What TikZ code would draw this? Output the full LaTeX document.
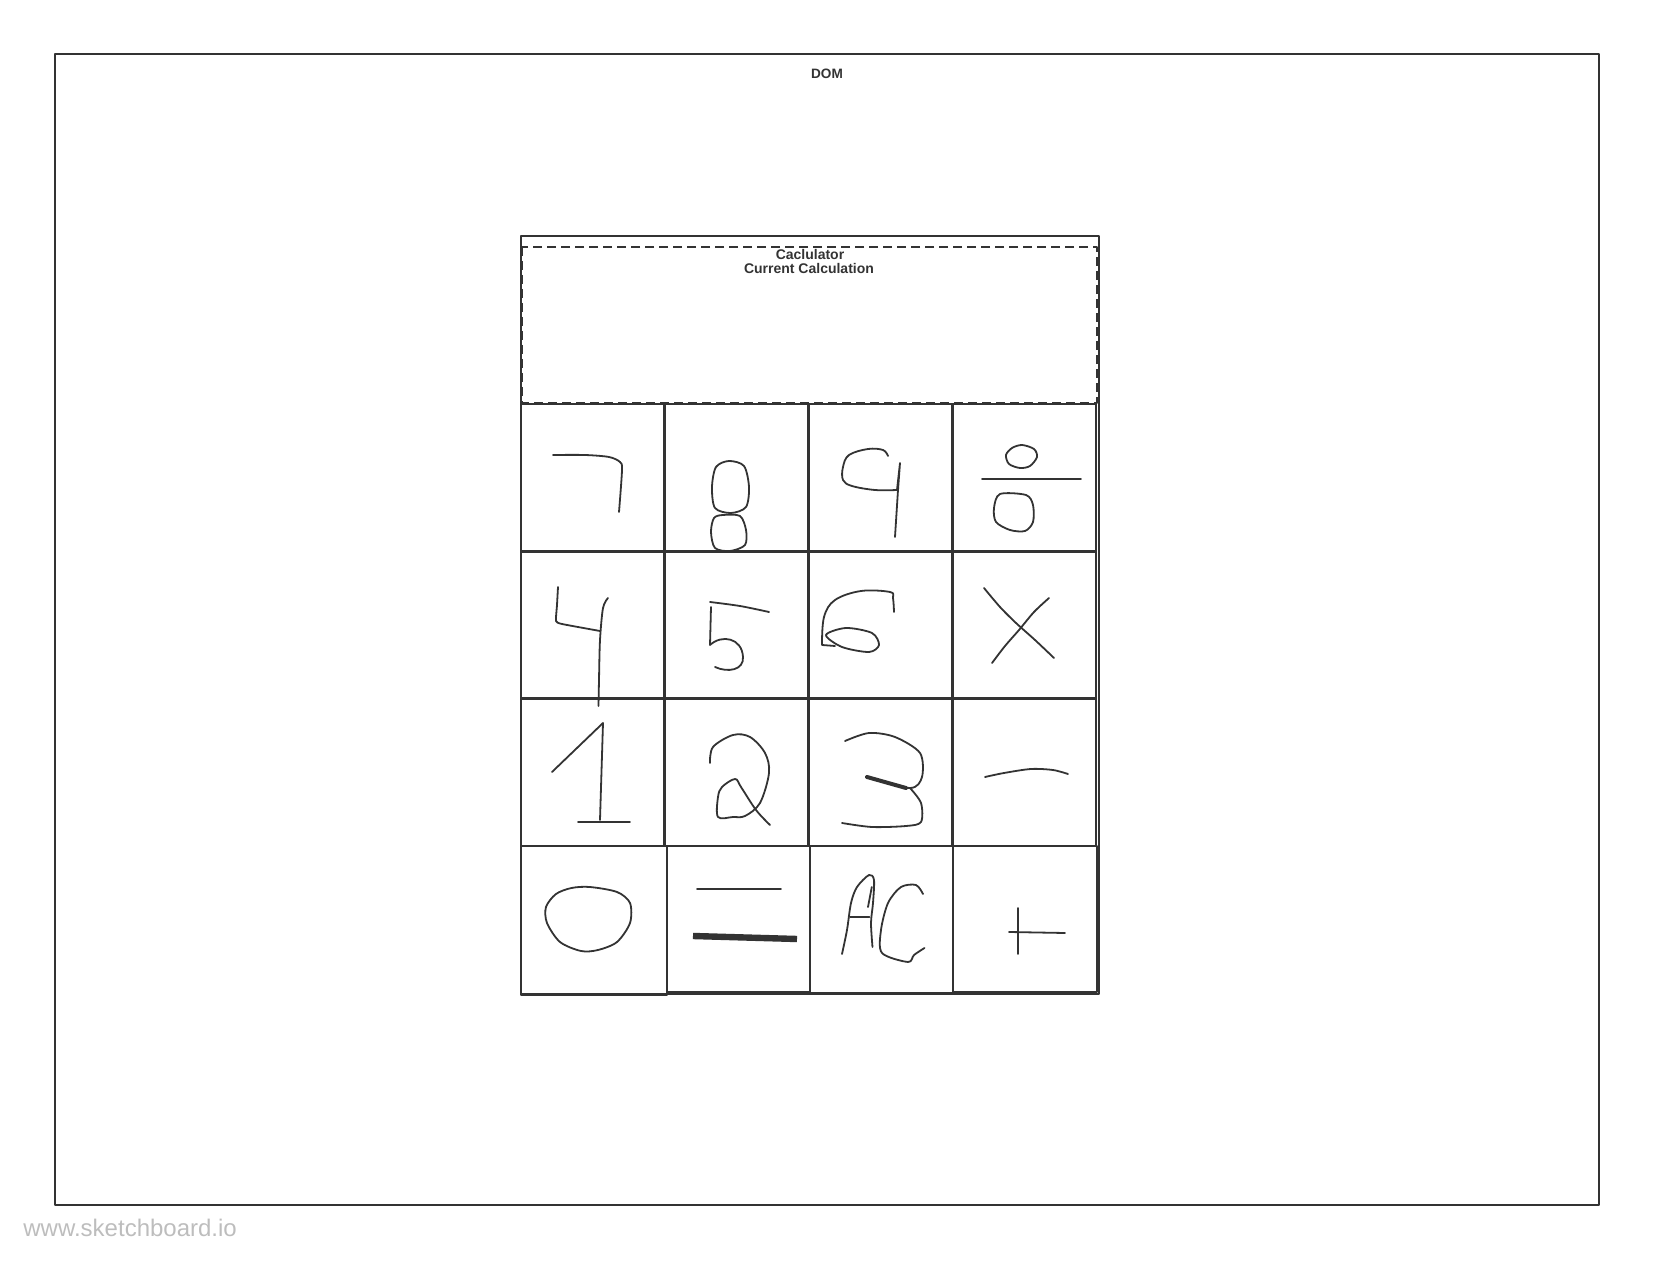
\documentclass[tikz,border=0pt]{standalone}
\usepackage{fontspec}
\setmainfont{Liberation Sans}
\definecolor{ink}{HTML}{333333}
\definecolor{wmgray}{HTML}{BDBDBD}
\begin{document}
\begin{tikzpicture}[x=0.5pt,y=-0.5pt,line join=round,
  every node/.style={font=\bfseries\fontsize{7}{8}\selectfont,text=ink,inner sep=0pt},
  penline/.style={draw=ink,line width=0.9pt,line cap=round},
  keybox/.style={draw=ink,line width=1.4pt}]
\useasboundingbox (0,0) rectangle (1667,1262);
\draw[ink,line width=1.3pt] (55,54) rectangle (1599,1205);
\node[font=\bfseries\fontsize{6.8}{8}\selectfont] (dom) at (827,74) {DOM};
% calculator frame and display
\draw[ink,line width=1pt] (521,236) rectangle (1099,994);
\draw[ink,line width=1pt,dash pattern=on 4.5pt off 2.5pt] (522,247) rectangle (1097,403);
\node (calc) at (810,254.5) {Caclulator};
\node (cur) at (809,268) {Current Calculation};
% keys
\foreach \r in {0,1,2} \foreach \c in {0,1,2,3} \draw[keybox] ({521+143.75*\c},{404+147.3*\r}) rectangle +(143.75,147.3);
\draw[keybox] (521,846) rectangle (667,995); \draw[keybox] (667,846) rectangle (810,992);
\draw[keybox] (810,846) rectangle (953,993); \draw[keybox] (953,846) rectangle (1097,992);
% 7 8 9 /
\draw[penline] plot[smooth,tension=0.5] coordinates {(553,455) (585,455) (609,457) (620,462) (622,470) (619,512)};
\draw[penline] plot[smooth cycle] coordinates {(729,461) (744,466) (749,487) (746,507) (731,513) (715,508) (712,487) (716,467)};
\draw[penline] plot[smooth cycle] coordinates {(723,515) (740,516) (746,530) (745,545) (730,551) (715,548) (711,532) (714,518)};
\draw[penline] plot[smooth,tension=0.6] coordinates {(888,456) (883,450) (868,449) (849,455) (843,467) (843,480) (852,486) (875,490) (897,490)};
\draw[penline] (897,490) -- (900,463) -- (898,490) -- (895,537);
\draw[penline] plot[smooth cycle] coordinates {(1022,445) (1034,449) (1037,457) (1030,466) (1020,468) (1009,464) (1006,455) (1012,448)};
\draw[penline] (982,479) -- (1081,479);
\draw[penline] plot[smooth cycle] coordinates {(1000,494) (1026,495) (1033,505) (1033,522) (1025,531) (1010,530) (996,522) (994,508)};
% 4 5 6 x
\draw[penline] plot[smooth,tension=0.3] coordinates {(558,587) (557,605) (556,621) (562,624) (600,631)};
\draw[penline] plot[smooth] coordinates {(608,598) (603,608) (600,640) (599,680) (598.5,706)};
\draw[penline] plot[smooth] coordinates {(710,602) (740,606) (769,612)};
\draw[penline] (711,607) -- (710,645) .. controls (722,634) and (742,638) .. (743,657) .. controls (744,670) and (728,673) .. (715,667);
\draw[penline] plot[smooth,tension=0.6] coordinates {(894,612) (893,598) (890,592) (861,591) (835,600) (824,617) (822,645)} -- (835,646);
\draw[penline] plot[smooth cycle] coordinates {(826,635) (846,628) (872,633) (879,645) (869,652) (842,647)};
\draw[penline] plot[smooth] coordinates {(984,588) (1000,607) (1016,623) (1035,640) (1054,658)};
\draw[penline] plot[smooth] coordinates {(1049,598) (1034,612) (1019,630) (1005,646) (992,663)};
% 1 2 3 -
\draw[penline] (552,772) -- (603,723) -- (600,820); \draw[penline] (578,822) -- (630,822);
\draw[penline] plot[smooth,tension=0.55] coordinates {(710,763) (713,747) (733,735) (750,737) (765,753) (769,773) (760,803) (745,816) (733,817) (718,817) (718,797) (722,787) (735,779) (741,787) (756,810) (770,825)};
\draw[penline] plot[smooth] coordinates {(845,741) (869,733) (895,737) (920,753) (922,777) (910,788) (867,777)};
\draw[penline,line width=2pt] (867,777) -- (906,788);
\draw[penline] plot[smooth] coordinates {(910,788) (921,803) (921,822) (906,826) (872,827) (842,823)};
\draw[penline] plot[smooth] coordinates {(985,777) (1004,773) (1031,769) (1053,770) (1068,774)};
% 0 = AC +
\draw[penline] plot[smooth cycle] coordinates {(571.5,888) (590,887) (617,892) (630,903) (630,923) (617,942) (598,950) (581,951) (560,942) (547,923) (546,907) (556,894)};
\draw[penline] (697,889) -- (781,889); \draw[penline,line width=3.2pt,line cap=butt] (693,936) -- (797,939);
\draw[penline] plot[smooth,tension=0.5] coordinates {(842,954) (847,930) (851,903) (857,887) (869,875) (874,880) (873,903) (871,923) (872.5,947)};
\draw[penline] (850,917) -- (869.5,917); \draw[penline] (871.8,887) -- (868,907);
\draw[penline] plot[smooth] coordinates {(923,894) (916,885) (901,887) (888,903) (881,930) (882,953) (908,962) (914,955) (924.5,948)};
\draw[penline] (1018,908) -- (1018,954); \draw[penline] (1009,932) -- (1065,933);
\node[font=\fontsize{12}{14}\selectfont,text=wmgray,anchor=west] (wm) at (23,1228) {www.sketchboard.io};
\end{tikzpicture}
\end{document}
